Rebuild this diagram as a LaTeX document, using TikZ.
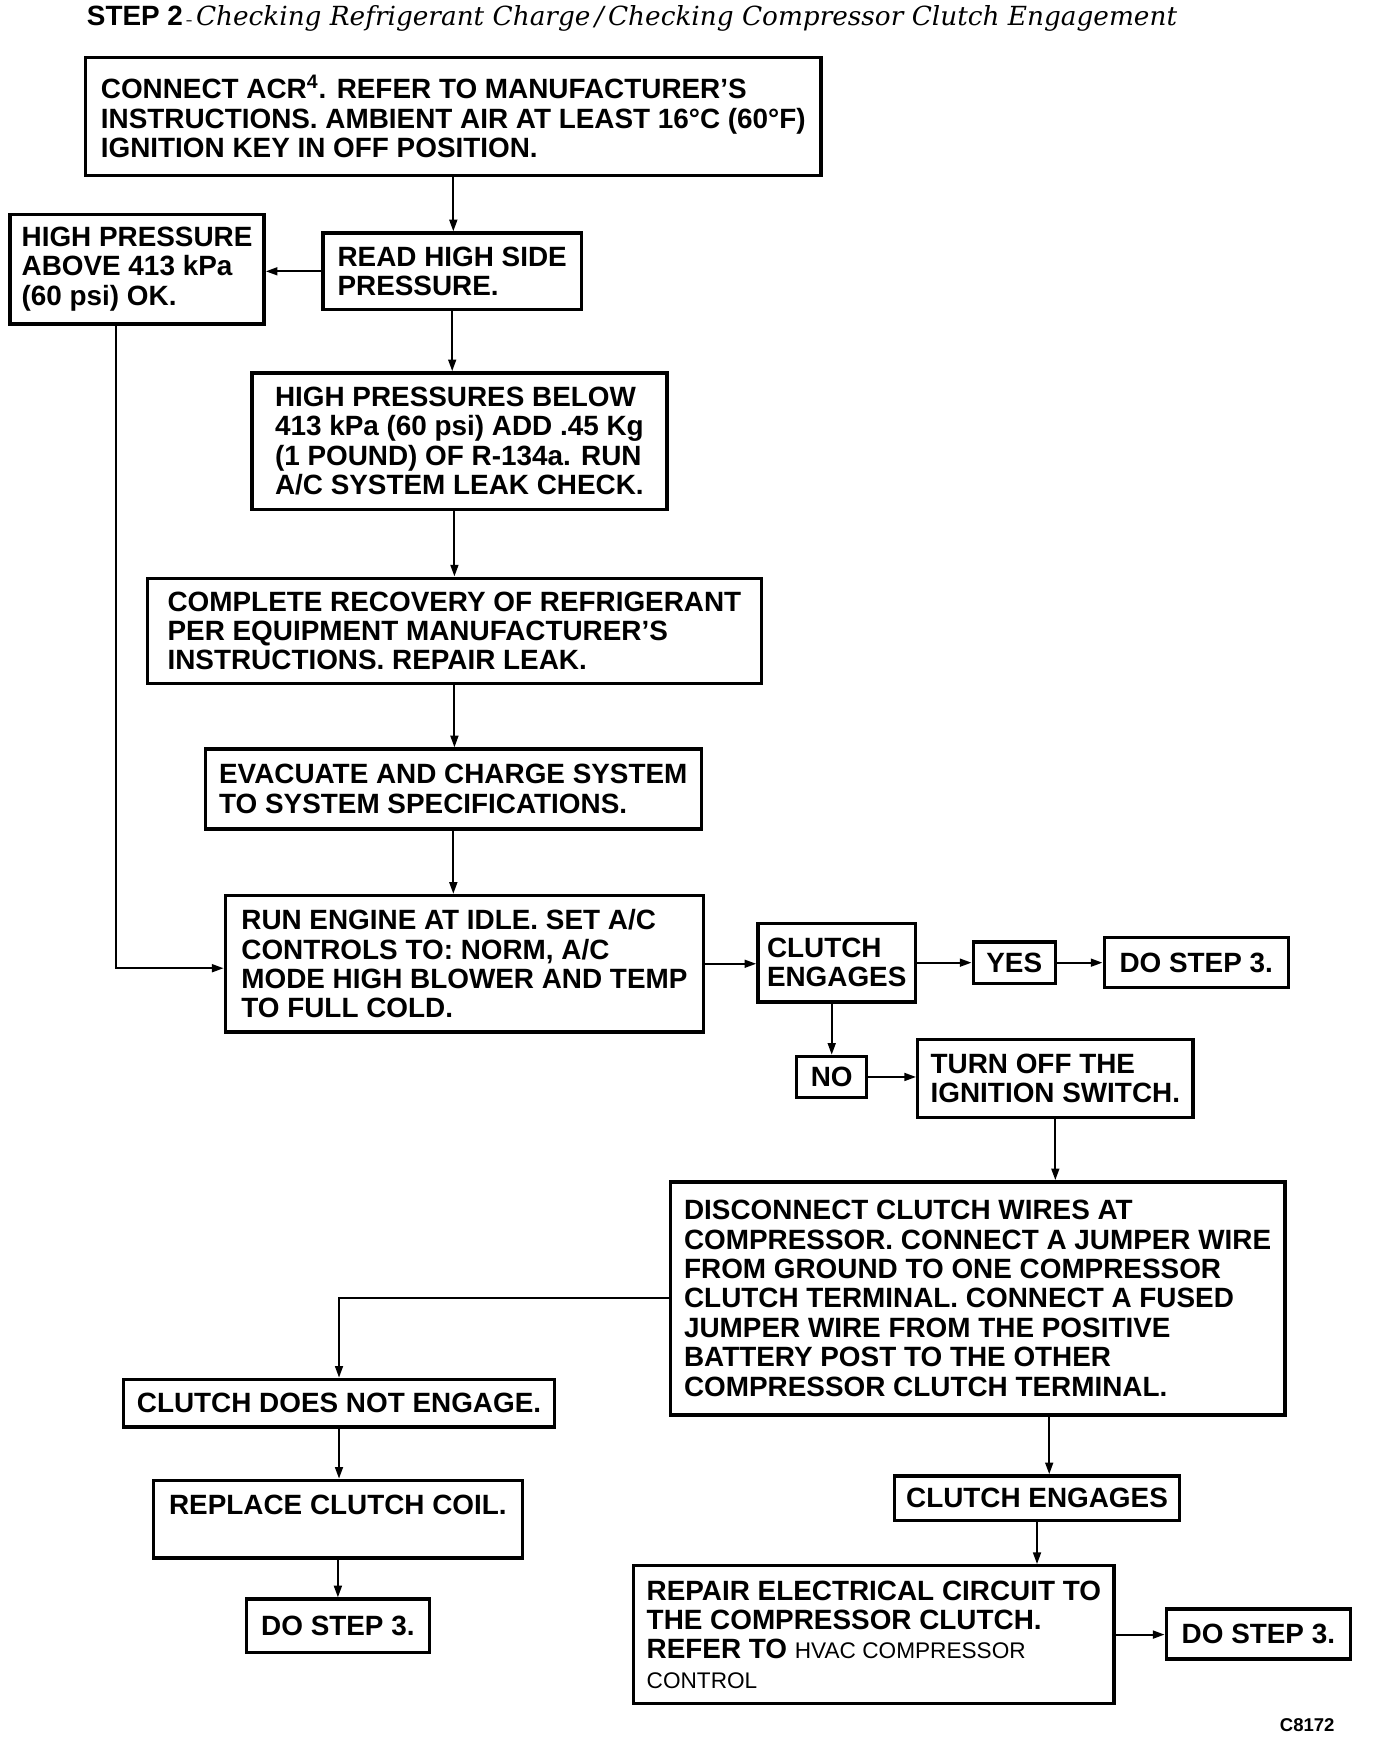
\documentclass[tikz,border=0pt]{standalone}
\usepackage{fontspec}
\setsansfont{Liberation Sans}
\newfontfamily\titlefont{DejaVu Serif}
\usetikzlibrary{arrows.meta}

\begin{document}
\begin{tikzpicture}[x=0.02cm, y=-0.02cm,
	box/.style={draw, line width=1.7pt, align=left, inner sep=0pt, font=\sffamily\bfseries\fontsize{14.3}{15.1}\selectfont},
	arr/.style={line width=1.1pt, -{Triangle[length=6pt,width=4pt]}}]
	\useasboundingbox (0,0) rectangle (1240,1566.2);

	\node[anchor=west, inner sep=0pt] (title) at (78,17) {{\sffamily\bfseries\fontsize{14.3}{16}\selectfont STEP 2}\,-\,{\titlefont\itshape\fontsize{13.5}{16}\selectfont Checking Refrigerant Charge\,/\,Checking Compressor Clutch Engagement}};

	\node[box, minimum width=13.26cm, minimum height=2.12cm] (acr) at (408.5,105) {CONNECT ACR\textsuperscript{4}. REFER TO MANUFACTURER’S\\INSTRUCTIONS. AMBIENT AIR AT LEAST 16°C (60°F)\\IGNITION KEY IN OFF POSITION.};
	\node[box, minimum width=4.58cm, minimum height=1.98cm] (hpok) at (123.5,242.5) {HIGH PRESSURE\\ABOVE 413 kPa\\(60 psi) OK.};
	\node[box, minimum width=4.66cm, minimum height=1.38cm] (read) at (407.5,244.5) {READ HIGH SIDE\\PRESSURE.};
	\node[box, minimum width=7.48cm, minimum height=2.46cm] (below) at (414,397.5) {HIGH PRESSURES BELOW\\413 kPa (60 psi) ADD .45 Kg\\(1 POUND) OF R-134a. RUN\\A/C SYSTEM LEAK CHECK.};
	\node[box, minimum width=11.06cm, minimum height=1.9cm] (recover) at (409.5,568.5) {COMPLETE RECOVERY OF REFRIGERANT\\PER EQUIPMENT MANUFACTURER’S\\INSTRUCTIONS. REPAIR LEAK.};
	\node[box, minimum width=8.94cm, minimum height=1.44cm] (evac) at (408.5,711) {EVACUATE AND CHARGE SYSTEM\\TO SYSTEM SPECIFICATIONS.};
	\node[box, minimum width=8.62cm, minimum height=2.46cm] (run) at (418.5,868.5) {RUN ENGINE AT IDLE. SET A/C\\CONTROLS TO: NORM, A/C\\MODE HIGH BLOWER AND TEMP\\TO FULL COLD.};
	\node[box, minimum width=2.84cm, minimum height=1.42cm] (clutch) at (754,867.5) {CLUTCH\\ENGAGES};
	\node[box, minimum width=1.48cm, minimum height=0.74cm] (yes) at (914,867.5) {YES};
	\node[box, minimum width=3.32cm, minimum height=0.9cm] (stepA) at (1078,867.5) {DO STEP 3.};
	\node[box, minimum width=1.26cm, minimum height=0.74cm] (no) at (749.5,970.5) {NO};
	\node[box, minimum width=4.96cm, minimum height=1.4cm] (turnoff) at (951,972) {TURN OFF THE\\IGNITION SWITCH.};
	\node[box, minimum width=11.08cm, minimum height=4.2cm] (jumper) at (881,1170) {DISCONNECT CLUTCH WIRES AT\\COMPRESSOR. CONNECT A JUMPER WIRE\\FROM GROUND TO ONE COMPRESSOR\\CLUTCH TERMINAL. CONNECT A FUSED\\JUMPER WIRE FROM THE POSITIVE\\BATTERY POST TO THE OTHER\\COMPRESSOR CLUTCH TERMINAL.};
	\node[box, minimum width=7.78cm, minimum height=0.86cm] (noengage) at (305.5,1264.5) {CLUTCH DOES NOT ENGAGE.};
	\node[box, minimum width=6.66cm, minimum height=1.4cm] (coil) at (304.5,1369) {REPLACE CLUTCH COIL.\\~};
	\node[box, minimum width=3.3cm, minimum height=0.96cm] (stepB) at (304.5,1465) {DO STEP 3.};
	\node[box, minimum width=5.14cm, minimum height=0.8cm] (engages) at (934.5,1350) {CLUTCH ENGAGES};
	\node[box, minimum width=8.66cm, minimum height=2.48cm] (repair) at (787.5,1473) {REPAIR ELECTRICAL CIRCUIT TO\\THE COMPRESSOR CLUTCH.\\REFER TO {\mdseries\fontsize{11.6}{15.1}\selectfont HVAC COMPRESSOR}\\{\mdseries\fontsize{11.6}{15.1}\selectfont CONTROL}};
	\node[box, minimum width=3.32cm, minimum height=0.9cm] (stepC) at (1134,1472.5) {DO STEP 3.};

	\node[inner sep=0pt, font=\sffamily\bfseries\fontsize{9.5}{11}\selectfont] (code) at (1178,1555) {C8172};

	\draw[arr] (acr.south) -- (acr.south |- read.north);
	\draw[arr] (read.west) -- (read.west -| hpok.east);
	\draw[arr] (read.south) -- (read.south |- below.north);
	\draw[arr] (below.south -| recover.north) -- (recover.north);
	\draw[arr] (recover.south) -- (recover.south |- evac.north);
	\draw[arr] (evac.south) -- (evac.south |- run.north);
	\draw[arr] ([xshift=-0.38cm]hpok.south) |- ([yshift=-0.08cm]run.west);
	\draw[arr] (run.east) -- (run.east -| clutch.west);
	\draw[arr] (clutch.east) -- (yes.west);
	\draw[arr] (yes.east) -- (stepA.west);
	\draw[arr] (clutch.south -| no.north) -- (no.north);
	\draw[arr] (no.east) -- (no.east -| turnoff.west);
	\draw[arr] (turnoff.south) -- (turnoff.south |- jumper.north);
	\draw[arr] (jumper.west) -| (noengage.north);
	\draw[arr] (noengage.south) -- (noengage.south |- coil.north);
	\draw[arr] (coil.south) -- (coil.south |- stepB.north);
	\draw[arr] ([xshift=0.22cm]engages.north |- jumper.south) -- ([xshift=0.22cm]engages.north);
	\draw[arr] (engages.south) -- (engages.south |- repair.north);
	\draw[arr] (repair.east) -- (repair.east -| stepC.west);
\end{tikzpicture}
\end{document}
